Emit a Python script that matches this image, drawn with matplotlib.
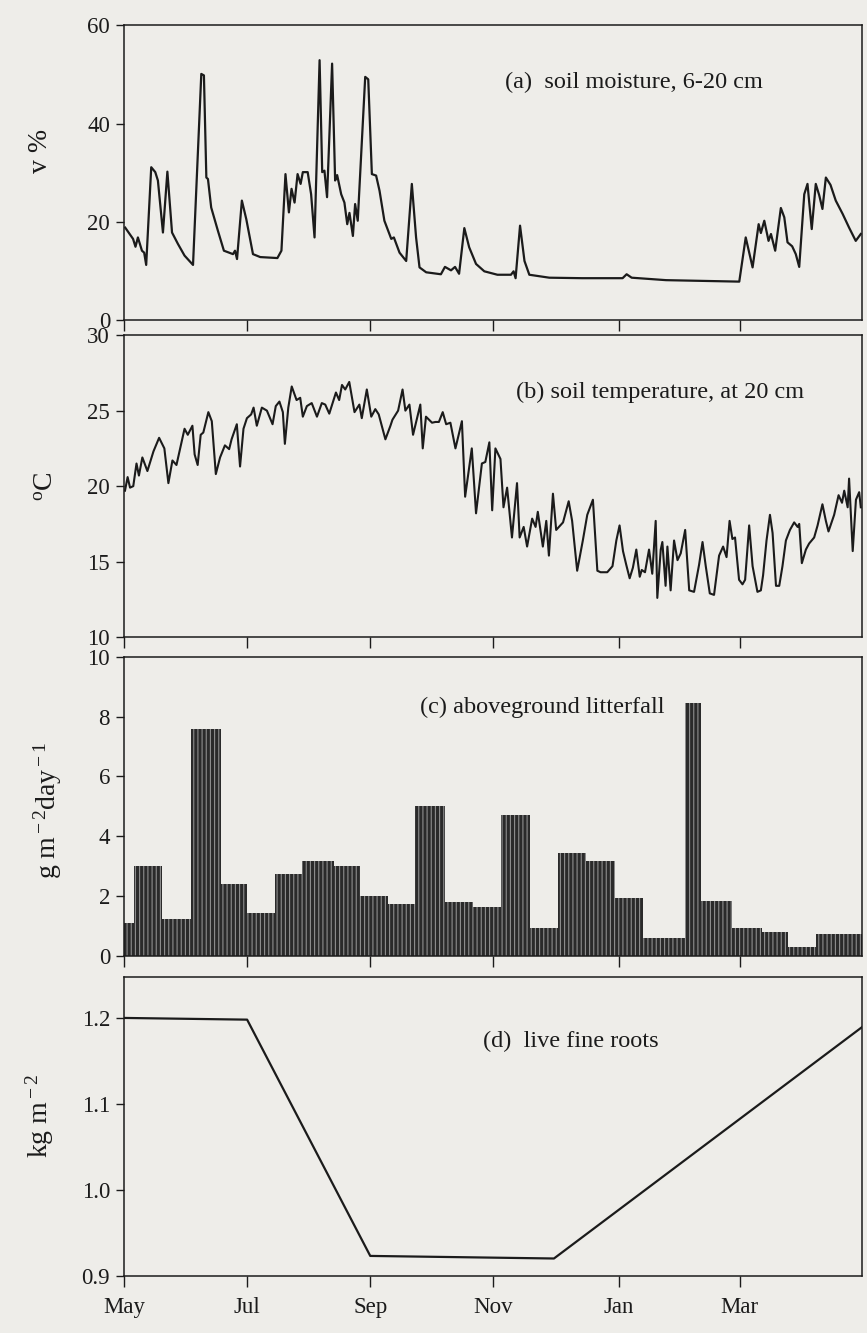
import matplotlib

matplotlib.use("Agg")
import matplotlib.pyplot as plt
import numpy as np

# time axis: days since 1 May
month_ticks = [0, 61, 122, 183, 245, 305]
month_labels = ["May", "Jul", "Sep", "Nov", "Jan", "Mar"]

# (a) volumetric soil moisture, 6-20 cm (%)
moist_day = [0.6, 4.5, 5.7, 6.9, 8.9, 10, 11, 13.5, 15.5, 16.8, 19.3, 21.5, 23.8, 26.7, 30,
             34.2, 38.3, 39.6, 40.8, 41.6, 43.2, 46.5, 49.5, 54, 55, 56, 58.4, 60.6, 63.9, 67.5,
             76, 78, 80, 81.7, 83, 84.5, 86, 87.5, 88.6, 91, 92.7, 94.4, 96.9, 98.2, 99.3,
             100.6, 103.1, 104.6, 105.6, 107.6, 109.2, 110.6, 111.7, 113.4, 114.5, 115.8, 119.5,
             121, 122.8, 124.9, 126.6, 129, 132.4, 133.7, 136.5, 139.8, 142.6, 144.7, 146.4,
             149.7, 157, 159, 162, 164, 166, 168.6, 171, 174.4, 178.5, 185, 191.7, 193, 194,
             196.2, 198.4, 200.8, 210.7, 227, 247, 249, 251.5, 268.5, 304.8, 308, 311.4, 314.4,
             315.5, 317.2, 319.3, 320.5, 322.6, 325.4, 327.1, 328.7, 331, 332.8, 334.5, 337,
             338.6, 340.7, 342.7, 344.4, 346, 347.7, 350, 352.6, 356, 359.2, 362.5, 365]
moist_val = [18.8, 16.5, 14.9, 16.8, 14.1, 13.7, 11.2, 31.1, 30.1, 28.4, 17.8, 30.2, 17.8, 15.5,
             13.1, 11.2, 50.1, 49.8, 29.0, 28.7, 22.9, 18.2, 14.1, 13.4, 14.1, 12.4, 24.3, 20.5,
             13.4, 12.8, 12.6, 14.1, 29.7, 21.9, 26.7, 23.9, 29.7, 27.7, 30.1, 30.1, 25.6, 16.8,
             52.9, 30.1, 30.4, 25.0, 52.2, 28.4, 29.5, 25.6, 23.9, 19.5, 21.8, 17.1, 23.6, 20.2,
             49.5, 49.0, 29.7, 29.4, 26.3, 20.2, 16.5, 16.8, 13.7, 12.0, 27.7, 16.8, 10.7, 9.7,
             9.3, 10.8, 10.1, 10.8, 9.4, 18.7, 14.8, 11.4, 9.9, 9.2, 9.2, 9.9, 8.5, 19.2, 12.0,
             9.2, 8.6, 8.5, 8.5, 9.3, 8.6, 8.1, 7.8, 16.8, 10.7, 19.5, 17.7, 20.2, 16.1, 17.5,
             14.1, 22.8, 20.9, 15.8, 15.0, 13.4, 10.8, 25.6, 27.7, 18.5, 27.7, 25.4, 22.6, 29.0,
             27.5, 24.3, 21.6, 18.8, 16.1, 17.5]

# (b) soil temperature at 20 cm (deg C)
temp_day = [0.5, 1.8, 3, 4.6, 6.2, 7.4, 9.1, 11.6, 14.6, 17.4, 20, 22, 24, 26, 30, 31.6, 33.9,
            35, 36.5, 38, 39.3, 41.8, 43.5, 45.5, 47.6, 50, 52.1, 53.3, 55.9, 57.5, 59.2, 60.9,
            63, 64.2, 65.8, 68.3, 70.8, 73.6, 75.2, 77, 78.7, 79.7, 81.4, 83.1, 85.5, 87.3,
            88.6, 90.6, 93, 95.6, 98, 99.7, 101.7, 105, 106.6, 108, 109.6, 111.6, 114.2, 116.6,
            117.8, 120.3, 122.5, 124.5, 126.2, 129.5, 132, 133, 135.8, 138, 139.4, 141.4,
            143.2, 146.8, 148, 149.6, 152.6, 154.3, 156, 157.9, 159.6, 161.7, 164.2, 167.4,
            169, 172.3, 174.4, 177.3, 179, 181, 182.4, 184, 186.5, 188, 189.8, 192.2, 194.7,
            196, 198, 199.7, 202.2, 203.9, 205, 207.5, 209.2, 210.5, 212.5, 214.1, 217.5,
            220.3, 222, 224.5, 227.3, 229.5, 232.3, 234.5, 236.1, 239.4, 242, 243.9, 245.5,
            247.2, 248.8, 250.5, 252.1, 253.8, 255.5, 256.5, 258.1, 260.1, 261.7, 263.4, 264.2,
            265.9, 266.7, 268.3, 269.2, 270.8, 272.5, 274.2, 275.8, 278, 280, 282.4, 284.9,
            286.6, 288.2, 290.2, 292.3, 294.8, 296.8, 298.5, 300, 301.4, 302.7, 304.7, 306.4,
            307.7, 309.7, 311.4, 313.8, 315.5, 316.6, 318.3, 320, 321.3, 323, 324.6, 326.2,
            327.9, 329.9, 332, 333.7, 334.5, 335.8, 337.8, 339.4, 341.9, 343.6, 346, 347.7,
            349, 351.8, 354, 355.7, 356.8, 358.5, 359.2, 361, 362.6, 364.2, 365]
temp_val = [19.7, 20.6, 19.9, 20.0, 21.5, 20.7, 21.9, 21.0, 22.3, 23.2, 22.5, 20.2, 21.7, 21.4,
            23.8, 23.4, 24.0, 22.1, 21.4, 23.4, 23.55, 24.9, 24.3, 20.8, 21.9, 22.7, 22.45,
            23.1, 24.1, 21.3, 23.8, 24.5, 24.75, 25.2, 24.0, 25.2, 25.0, 24.1, 25.3, 25.6,
            24.9, 22.8, 25.2, 26.6, 25.7, 25.85, 24.6, 25.3, 25.5, 24.6, 25.5, 25.4, 24.8,
            26.2, 25.7, 26.7, 26.4, 26.9, 24.9, 25.4, 24.5, 26.4, 24.6, 25.1, 24.75, 23.1,
            24.0, 24.4, 25.0, 26.4, 25.0, 25.4, 23.4, 25.4, 22.5, 24.6, 24.2, 24.25, 24.25,
            24.9, 24.1, 24.2, 22.5, 24.3, 19.3, 22.5, 18.2, 21.5, 21.6, 22.9, 18.4, 22.5,
            21.8, 18.6, 19.9, 16.6, 20.2, 16.6, 17.3, 16.0, 17.85, 17.3, 18.3, 16.0, 17.7,
            15.4, 19.5, 17.1, 17.6, 19.0, 17.7, 14.4, 16.4, 18.1, 19.1, 14.4, 14.3, 14.3,
            14.7, 16.4, 17.4, 15.7, 14.8, 13.9, 14.6, 15.8, 14.0, 14.45, 14.3, 15.8, 14.2,
            17.7, 12.6, 15.8, 16.3, 13.4, 16.0, 13.1, 16.4, 15.1, 15.55, 17.1, 13.1, 13.0,
            14.8, 16.3, 14.7, 12.9, 12.8, 15.4, 16.0, 15.3, 17.7, 16.5, 16.6, 13.8, 13.5,
            13.8, 17.4, 14.7, 13.0, 13.1, 14.1, 16.4, 18.1, 16.9, 13.4, 13.4, 14.7, 16.4,
            17.1, 17.6, 17.3, 17.5, 14.9, 15.8, 16.2, 16.6, 17.4, 18.8, 17.7, 17.0, 18.1,
            19.4, 18.9, 19.7, 18.6, 20.5, 15.7, 19.1, 19.6, 18.6]

# (c) aboveground litterfall per collection period (g m-2 day-1)
litter_edges = [0, 5, 19, 33, 48, 61, 75, 88, 104, 117, 131, 144, 159, 173, 187, 201, 215,
                229, 243, 257, 278, 286, 301, 316, 329, 343, 366]
litter_val = [1.1, 3.0, 1.23, 7.6, 2.4, 1.43, 2.73, 3.17, 3.0, 2.0, 1.73, 5.0, 1.8, 1.63, 4.7,
              0.93, 3.43, 3.17, 1.93, 0.6, 8.47, 1.83, 0.93, 0.8, 0.3, 0.73]

# (d) live fine root biomass (kg m-2)
root_day = [0, 61, 122, 213, 366]
root_val = [1.2, 1.198, 0.923, 0.92, 1.19]

plt.rcParams["font.family"] = ["Liberation Serif", "DejaVu Serif"]
plt.rcParams["mathtext.fontset"] = "custom"
plt.rcParams["mathtext.rm"] = "Liberation Serif"
plt.rcParams["mathtext.it"] = "Liberation Serif:italic"
plt.rcParams["hatch.linewidth"] = 0.8

paper = "#eeede9"
ink = "#1b1b1b"

fig = plt.figure(figsize=(8.67, 13.33), dpi=100, facecolor=paper)
left, width = 0.143, 0.851
boxes = [
    (0.760, 0.221),
    (0.522, 0.2266),
    (0.283, 0.2243),
    (0.043, 0.2243),
]
axes = [fig.add_axes([left, b, width, h]) for b, h in boxes]

for ax in axes:
    ax.set_facecolor(paper)
    ax.set_xlim(0, 365.5)
    ax.set_xticks(month_ticks)
    ax.tick_params(axis="both", direction="out", labelsize=16.5, colors=ink, width=1.0)
    ax.tick_params(axis="y", length=6, pad=4)
    ax.tick_params(axis="x", length=8, pad=7)
    for sp in ax.spines.values():
        sp.set_linewidth(1.1)
        sp.set_color(ink)
for ax in axes[:3]:
    ax.set_xticklabels([])
axes[3].set_xticklabels(month_labels)

ax_a, ax_b, ax_c, ax_d = axes

ax_a.plot(moist_day, moist_val, color=ink, lw=1.6)
ax_a.set_ylim(0, 60)
ax_a.set_yticks([0, 20, 40, 60])
ax_a.text(0.516, 0.807, "(a)  soil moisture, 6-20 cm", transform=ax_a.transAxes,
          fontsize=17.5, ha="left", va="center", color=ink)

ax_b.plot(temp_day, temp_val, color=ink, lw=1.5)
ax_b.set_ylim(10, 30)
ax_b.set_yticks([10, 15, 20, 25, 30])
ax_b.text(0.531, 0.811, "(b) soil temperature, at 20 cm", transform=ax_b.transAxes,
          fontsize=17.5, ha="left", va="center", color=ink)

# one bar per collection period, striped like the daily columns of the print
ax_c.bar(litter_edges[:-1], litter_val, width=np.diff(litter_edges), align="edge",
         color="#2a2a2a", edgecolor="#8e8e8e", linewidth=0, hatch="||||")
ax_c.set_ylim(0, 10)
ax_c.set_yticks([0, 2, 4, 6, 8, 10])
ax_c.text(0.401, 0.829, "(c) aboveground litterfall", transform=ax_c.transAxes,
          fontsize=17.5, ha="left", va="center", color=ink)

ax_d.plot(root_day, root_val, color=ink, lw=1.6)
ax_d.set_ylim(0.9, 1.248)
ax_d.set_yticks([0.9, 1.0, 1.1, 1.2])
ax_d.set_yticklabels(["0.9", "1.0", "1.1", "1.2"])
ax_d.text(0.486, 0.783, "(d)  live fine roots", transform=ax_d.transAxes,
          fontsize=17.5, ha="left", va="center", color=ink)

ylab_kw = dict(rotation=90, ha="center", va="center", fontsize=20, color=ink)
fig.text(0.047, 0.887, "v %", **ylab_kw)
fig.text(0.054, 0.635, r"$^{\rm o}$C", **ylab_kw)
fig.text(0.055, 0.392, r"g m$^{\rm -2}$day$^{\rm -1}$", **ylab_kw)
fig.text(0.046, 0.163, r"kg m$^{\rm -2}$", **ylab_kw)

fig.savefig("out.png", dpi=100, facecolor=paper)
